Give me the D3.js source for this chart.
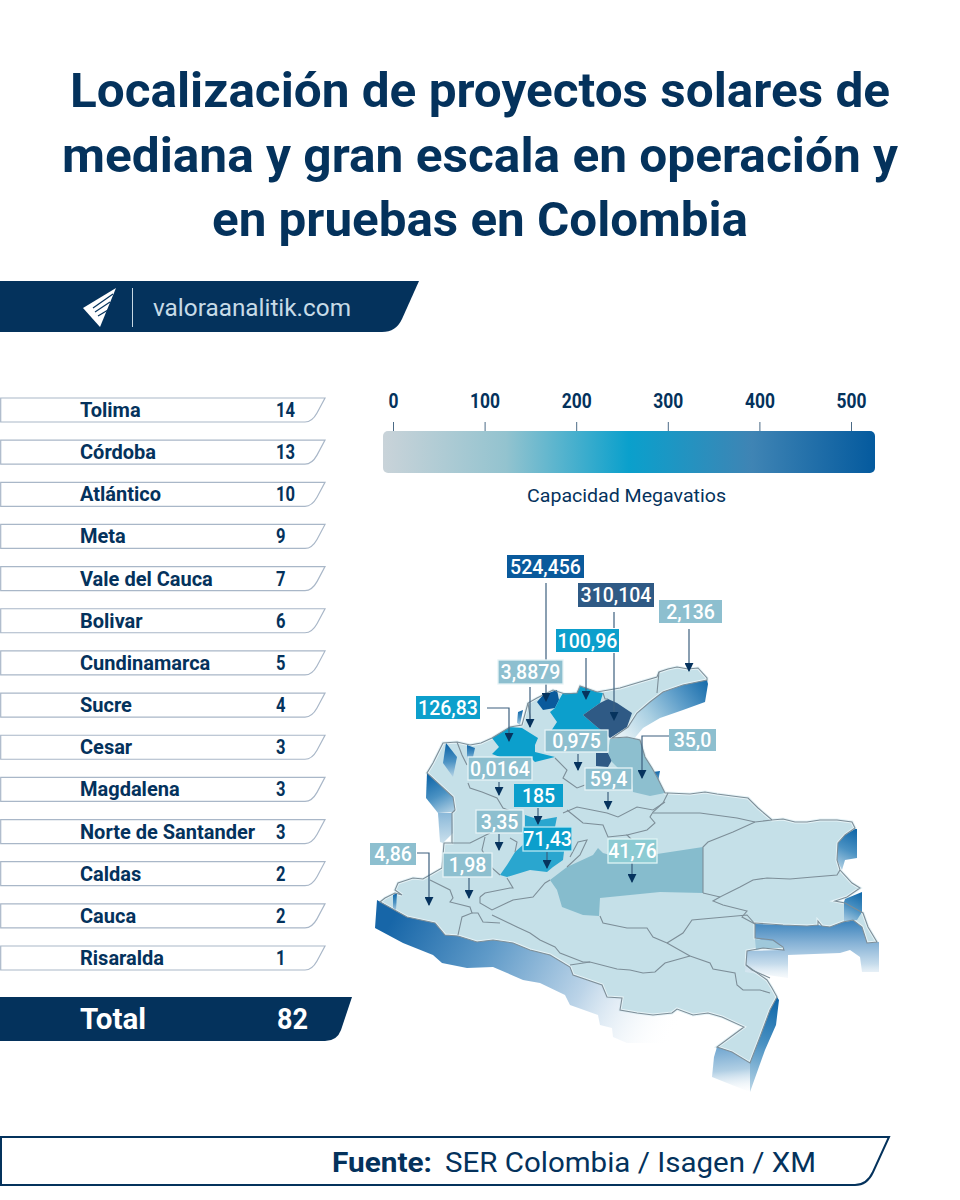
<!DOCTYPE html>
<html>
<head>
<meta charset="utf-8">
<script src="https://cdn.jsdelivr.net/npm/d3@7"></script>
<style>
  html, body { margin: 0; background: #fff; }
  text { font-family: Roboto, sans-serif; }
</style>
</head>
<body>
<svg id="chart" width="960" height="1200"></svg>
<script>
const titleLines = ["Localización de proyectos solares de", "mediana y gran escala en operación y", "en pruebas en Colombia"];

const departments = ["Tolima", "Córdoba", "Atlántico", "Meta", "Vale del Cauca", "Bolivar", "Cundinamarca", "Sucre", "Cesar", "Magdalena", "Norte de Santander", "Caldas", "Cauca", "Risaralda"];
const projectCounts = [14, 13, 10, 9, 7, 6, 5, 4, 3, 3, 3, 2, 2, 1];
const totalProjects = 82;

const legendTicks = [0, 100, 200, 300, 400, 500];

// callouts on the map
const capacityLabels = ["524,456", "310,104", "2,136", "100,96", "3,8879", "126,83", "0,975", "35,0", "0,0164", "59,4", "185", "3,35", "71,43", "41,76", "4,86", "1,98"];
const calloutTier = ["top", "dark", "low", "mid", "lowb", "mid", "lowb", "low", "lowb", "lowb", "mid", "lowb", "midb", "lowc", "low", "lowb"];
const calloutBoxes = [[507,555,584,578],[578,583,654,607],[659,600,722,623],[556,629,619,652],[498,660,563,684],[416,696,480,719],[545,730,608,752],[669,729,716,751],[468,757,532,780],[585,768,632,790],[514,784,563,807],[476,810,523,833],[523,827,572,851],[608,839,657,863],[370,843,416,865],[443,853,492,877]];
const calloutLeaders = [
  [[546,583],[546,701]], [[614,653],[614,720]], [[689,629],[689,671]], [[586,658],[586,699]],
  [[530,687],[530,727]], [[487,708],[509,708],[509,741]], [[578,754],[578,770]], [[672,736],[642,736],[642,778]],
  [[499,782],[499,795]], [[608,792],[608,809]], [[538,808],[538,824]], [[499,834],[499,850]],
  [[547,852],[547,868]], [[632,863],[632,882]], [[417,853],[429,853],[429,905]], [[469,878],[469,898]]
];
const extraLeaderPiece = [[614,612],[614,628]];

// map outlines (map units)
const countryOutline = [[470,745],[481,743],[492,738],[510,727],[522,725],[525,714],[528,703],[537,698],[553,690],[565,694],[577,693],[580,686],[597,692],[620,688],[640,682],[657,677],[659,672],[668,669],[677,667],[688,669],[698,668],[707,678],[707,680],[683,685],[663,692],[650,702],[637,713],[628,727],[612,738],[627,737],[640,740],[645,757],[652,768],[657,777],[665,793],[668,793],[690,794],[705,792],[717,794],[740,797],[748,798],[758,808],[772,820],[783,819],[795,822],[807,822],[820,820],[837,820],[852,822],[855,828],[845,835],[838,843],[837,860],[840,870],[852,883],[860,888],[847,897],[835,901],[845,903],[863,913],[868,927],[877,942],[867,943],[862,927],[853,920],[843,922],[830,927],[822,926],[818,921],[818,925],[807,926],[783,925],[755,923],[755,938],[773,940],[783,947],[784,950],[763,948],[747,951],[746,965],[767,980],[772,988],[777,997],[770,1010],[760,1037],[750,1063],[732,1052],[717,1047],[744,1027],[722,1017],[708,1013],[693,1015],[677,1009],[672,1013],[653,1015],[637,1013],[620,1010],[622,998],[607,997],[602,985],[573,975],[570,967],[550,955],[530,950],[513,943],[493,940],[477,942],[458,936],[445,935],[435,923],[407,917],[380,902],[385,898],[395,893],[402,895],[395,890],[398,883],[413,878],[423,879],[442,868],[444,843],[452,843],[452,823],[452,813],[455,810],[453,797],[427,773],[433,763],[443,743],[457,742]];

const atlantico = [[537,702],[543,695],[557,690],[559,700],[555,708],[543,710]];
const bolivarNorth = [[550,712],[555,708],[559,700],[563,693],[577,693],[580,686],[597,692],[603,693],[600,703],[583,715],[597,727],[607,733],[600,740],[545,740],[557,722]];
const cesarNorth = [[583,715],[600,703],[608,699],[617,703],[632,713],[627,727],[610,738],[604,732],[597,727]];
const cesarSouth = [[596,753],[608,753],[612,760],[608,767],[596,766]];
const norteSantander = [[610,739],[627,737],[640,740],[645,757],[652,768],[657,777],[665,793],[650,796],[633,792],[632,782],[612,762],[608,753]];
const cordoba = [[492,738],[510,727],[522,728],[538,738],[535,745],[535,752],[555,757],[535,762],[530,757],[500,757],[492,754],[499,747]];
const caldasBand = [[525,815],[540,820],[557,817],[555,827],[525,827]];
const tolimaArea = [[500,875],[507,865],[515,852],[525,843],[565,843],[563,860],[553,867],[547,872],[530,870],[507,877]];
const metaArea = [[550,880],[567,867],[593,855],[598,848],[603,853],[610,855],[657,854],[703,847],[703,893],[660,892],[600,898],[599,916],[583,915],[562,907],[557,890]];
const guainiaPatch = [[755,939],[773,941],[783,948],[763,948],[756,950]];

const sideShapes = [
  { id: "sidePacific", from: [400, 905], to: [665, 1050], points: [[377,900],[407,917],[435,923],[445,935],[458,936],[477,942],[493,940],[513,943],[530,950],[550,955],[570,967],[573,975],[602,985],[607,997],[622,998],[620,1010],[637,1013],[653,1015],[672,1013],[677,1009],[693,1015],[708,1013],[722,1017],[744,1027],[717,1047],[673,1043],[627,1043],[613,1037],[612,1028],[600,1025],[598,1015],[570,1005],[565,995],[540,983],[523,980],[493,967],[467,968],[442,963],[433,955],[403,943],[375,928]] },
  { id: "sideTip", from: [730, 1045], to: [735, 1095], points: [[717,1047],[732,1052],[750,1063],[750,1092],[732,1085],[712,1077],[714,1057]] },
  { id: "sideTipEast", from: [778, 1000], to: [748, 1090], points: [[750,1063],[760,1037],[770,1010],[777,997],[779,1000],[776,1025],[765,1050],[750,1092]] },
  { id: "sideEast", from: [810, 922], to: [810, 985], points: [[755,924],[807,926],[818,925],[830,927],[843,922],[853,920],[862,927],[867,943],[879,942],[879,972],[862,972],[860,957],[850,950],[840,953],[788,955],[788,978],[745,972],[747,951],[784,950],[783,947],[755,938]] },
  { id: "sideGuajira", from: [708, 682], to: [628, 742], points: [[707,680],[708,684],[705,702],[683,710],[660,718],[643,728],[633,740],[627,737],[612,738],[628,727],[637,713],[650,702],[663,692],[683,685]] },
  { id: "sideEastA", from: [857, 830], to: [838, 870], points: [[855,829],[857,829],[857,858],[845,860],[842,870],[837,860],[838,843],[845,835]] },
  { id: "sideEastB", from: [862, 892], to: [845, 925], points: [[845,899],[862,892],[862,912],[857,920],[844,922],[844,902]] },
  { id: "sideWestA", from: [430, 775], to: [450, 815], points: [[427,773],[453,797],[455,812],[438,813],[426,798]] },
  { id: "sideWestB", from: [445, 800], to: [448, 845], points: [[438,813],[452,813],[453,833],[443,843],[440,842]] },
  { id: "sideWestC", from: [448, 745], to: [450, 778], points: [[446,743],[457,757],[453,777],[443,763]] },
  { id: "sideWestD", from: [470, 745], to: [470, 762], points: [[467,745],[475,748],[473,757],[467,762]] },
  { id: "sideCaribA", from: [520, 710], to: [519, 725], points: [[518,712],[523,710],[520,725],[517,723]] },
  { id: "sideVzla", from: [656, 771], to: [656, 784], points: [[653,772],[660,771],[658,782],[654,781]] },
  { id: "sidePacificN", from: [395, 893], to: [395, 912], points: [[393,895],[397,893],[396,910],[393,908]] }
];

const borderLines = [
  [[659,672],[658,682],[657,693]],
  [[528,703],[530,716],[530,727]],
  [[603,693],[605,699],[608,699]],
  [[555,758],[567,770],[563,778],[577,788],[585,785]],
  [[468,783],[470,788],[482,792],[497,798],[503,808],[520,815]],
  [[457,742],[462,755],[467,765]],
  [[430,880],[450,890],[453,898],[450,902],[470,907],[472,913],[462,917],[458,935]],
  [[472,913],[478,913],[483,922],[500,923]],
  [[480,897],[485,893],[510,888],[513,888],[507,878]],
  [[480,897],[480,903],[492,910],[513,900],[533,897],[545,883],[550,880]],
  [[492,915],[517,927],[530,933],[540,940],[555,947],[560,953],[583,962],[590,962]],
  [[570,965],[590,962],[617,969],[630,970],[643,973],[655,972],[665,963],[690,956]],
  [[690,956],[710,963],[713,969],[735,973],[737,985],[743,990],[760,990],[770,993]],
  [[690,956],[667,943],[653,937],[647,928],[627,928],[603,923],[600,916]],
  [[667,943],[683,933],[692,920],[747,915],[755,924]],
  [[703,893],[720,897],[740,887],[753,880],[767,878],[790,879],[813,877],[837,875],[840,870]],
  [[720,897],[713,901],[723,905],[747,911],[742,917],[755,924]],
  [[703,893],[703,847],[708,842],[733,832],[755,822],[772,820]],
  [[653,813],[673,813],[700,813],[737,818],[755,822]],
  [[668,793],[663,803],[653,812],[650,817],[655,823],[647,830],[627,835],[632,840]],
  [[567,810],[583,823],[603,825],[608,837],[627,835]],
  [[563,813],[577,807],[607,813],[618,817],[637,807],[653,810],[665,802]],
  [[567,867],[580,855],[587,840],[578,842],[570,857]],
  [[485,837],[482,850],[492,868],[500,875]],
  [[510,838],[517,842],[515,852]],
  [[452,843],[470,843],[490,833]],
  [[746,965],[752,970],[770,978]]
];

const navy = "#04325c";
const calloutFill = { top: "#0a5a9c", dark: "#2f5a85", mid: "#0c9fcc", midb: "#0c9fcc", low: "#8dbfcf", lowb: "#8dbfcf", lowc: "#8ccbd3" };
const calloutStroke = { midb: "#b9e6f2", lowb: "#e6f3f6", lowc: "#dff4f5" };

const svg = d3.select("#chart");
const defs = svg.append("defs");

// title
svg.append("g").selectAll("text").data(titleLines).enter().append("text")
  .attr("x", 480)
  .attr("y", (d, i) => [107, 172, 236][i])
  .attr("text-anchor", "middle")
  .attr("font-size", 48)
  .attr("font-weight", 700)
  .attr("fill", navy)
  .attr("textLength", (d, i) => [820, 836, 536][i])
  .attr("lengthAdjust", "spacingAndGlyphs")
  .text(d => d);

// header band
svg.append("path").attr("fill", navy)
  .attr("d", "M0 281H419L402 319Q396 332 382 332H0Z");
svg.append("path").attr("fill", "#fff").attr("d", "M116 288L83 308L100 327Z");
svg.append("g").attr("stroke", navy).attr("stroke-width", 1.2).attr("fill", "none")
  .selectAll("path").data(["M113 294L93 308", "M110 302L95 312", "M108 310L98 316"]).enter().append("path").attr("d", d => d);
svg.append("line").attr("x1", 132.5).attr("x2", 132.5).attr("y1", 288).attr("y2", 327).attr("stroke", "#c7d8e3").attr("stroke-width", 1);
svg.append("text").attr("x", 153).attr("y", 316).attr("font-size", 24).attr("fill", "#c7dbe7")
  .attr("textLength", 198).attr("lengthAdjust", "spacingAndGlyphs").text("valoraanalitik.com");

// ranking list
const rowY = d3.scalePoint().domain(departments).range([410, 958]);
const rows = svg.append("g").selectAll("g").data(departments).enter().append("g")
  .attr("transform", d => `translate(0,${rowY(d)})`);
rows.append("path")
  .attr("d", "M0.7 -12H325L317 3Q312 12 305 12H0.7Z")
  .attr("fill", "#fff").attr("stroke", "#a9b7c8").attr("stroke-width", 1.2);
rows.append("text").attr("x", 80).attr("y", 7).attr("font-size", 20).attr("font-weight", 700).attr("fill", navy).text(d => d);
rows.append("text").attr("x", 276).attr("y", 7).attr("font-size", 20).attr("font-weight", 700).attr("fill", navy)
  .attr("textLength", (d, i) => String(projectCounts[i]).length * 9.5).attr("lengthAdjust", "spacingAndGlyphs")
  .text((d, i) => projectCounts[i]);

// total band
svg.append("path").attr("fill", navy).attr("d", "M0 997H352L341 1030Q337 1041 325 1041H0Z");
svg.append("text").attr("x", 80).attr("y", 1029).attr("font-size", 30).attr("font-weight", 700).attr("fill", "#fff")
  .attr("textLength", 66).attr("lengthAdjust", "spacingAndGlyphs").text("Total");
svg.append("text").attr("x", 277).attr("y", 1029).attr("font-size", 30).attr("font-weight", 700).attr("fill", "#fff")
  .attr("textLength", 31).attr("lengthAdjust", "spacingAndGlyphs").text(totalProjects);

// colour legend
const legendScale = d3.scaleLinear().domain([0, 500]).range([393, 851]);
const legendGrad = defs.append("linearGradient").attr("id", "legendGrad");
[[0, "#c9d3d9"], [0.25, "#93c3cf"], [0.5, "#0aa0cc"], [0.75, "#3f84b4"], [1, "#045a9e"]].forEach(s =>
  legendGrad.append("stop").attr("offset", s[0]).attr("stop-color", s[1]));
svg.append("rect").attr("x", 383).attr("y", 431).attr("width", 492).attr("height", 42).attr("rx", 5).attr("fill", "url(#legendGrad)");
const legendAxis = svg.append("g").attr("transform", "translate(0,431)")
  .call(d3.axisTop(legendScale).tickValues(legendTicks).tickSize(9).tickPadding(14).tickFormat(d3.format("d")));
legendAxis.select(".domain").remove();
legendAxis.selectAll("line").attr("stroke", "#4b6a86");
legendAxis.selectAll("text").attr("font-family", "Roboto, sans-serif").attr("font-size", 20).attr("font-weight", 700).attr("fill", navy)
  .attr("textLength", d => String(d).length * 10).attr("lengthAdjust", "spacingAndGlyphs");
svg.append("text").attr("x", 626.5).attr("y", 502).attr("text-anchor", "middle").attr("font-size", 18).attr("fill", navy)
  .attr("textLength", 199).attr("lengthAdjust", "spacingAndGlyphs").text("Capacidad Megavatios");

// map
const mapX = d3.scaleLinear().domain([360, 900]).range([360, 900]);
const mapY = d3.scaleLinear().domain([540, 1140]).range([540, 1140]);
const mapLine = d3.line().x(d => mapX(d[0])).y(d => mapY(d[1]));
const mapShape = pts => mapLine(pts) + "Z";

const sideStops = {
  sidePacific: [["#1766a8", 1], ["#5f9ac8", 1], ["#bcd4e8", 1], ["#ffffff", 0]],
  sideEast: [["#3f85bd", 1], ["#86b2d6", 1], ["#c6dcec", 1], ["#ffffff", 0.2]],
  sideTip: [["#6da4cf", 1], ["#b1cfe4", 1], ["#ffffff", 0.1]],
  sideWestB: [["#6fa7d0", 1], ["#cfe3ee", 1]],
  sideGuajira: [["#176cab", 1], ["#5d9dc9", 1], ["#a9cfe2", 1], ["#e3f0f5", 1]],
  default: [["#0f66a8", 1], ["#4b92c3", 1], ["#b9d5e6", 1]]
};
sideShapes.forEach(s => {
  const g = defs.append("linearGradient").attr("id", s.id).attr("gradientUnits", "userSpaceOnUse")
    .attr("x1", mapX(s.from[0])).attr("y1", mapY(s.from[1])).attr("x2", mapX(s.to[0])).attr("y2", mapY(s.to[1]));
  (sideStops[s.id] || sideStops.default).forEach((st, i, all) =>
    g.append("stop").attr("offset", i / (all.length - 1)).attr("stop-color", st[0]).attr("stop-opacity", st[1]));
});

svg.append("path").attr("d", mapShape(countryOutline)).attr("fill", "#c5e0e8").attr("stroke", "#e6f3f7").attr("stroke-width", 3);
svg.append("g").selectAll("path").data(sideShapes).enter().append("path")
  .attr("d", d => mapShape(d.points)).attr("fill", d => `url(#${d.id})`);

const regionFills = [
  [metaArea, "#86bccd"], [atlantico, "#0a5a9c"], [bolivarNorth, "#0c9fcc"], [cesarNorth, "#2f5a85"], [cesarSouth, "#2f5a85"],
  [norteSantander, "#8dbfcf"], [cordoba, "#0c9fcc"], [caldasBand, "#2aa6cf"], [tolimaArea, "#2aa6cf"], [guainiaPatch, "#9fc8da"]
];
svg.append("g").selectAll("path").data(regionFills).enter().append("path")
  .attr("d", d => mapShape(d[0])).attr("fill", d => d[1]);

svg.append("path").attr("d", mapShape(countryOutline)).attr("fill", "none").attr("stroke", "#7d8e98").attr("stroke-width", 1.1);
svg.append("g").attr("fill", "none").attr("stroke", "#7d8e98").attr("stroke-width", 1.1)
  .selectAll("path").data(borderLines).enter().append("path").attr("d", d => mapLine(d));

// callouts
defs.append("marker").attr("id", "arrow").attr("viewBox", "0 0 10 10").attr("refX", 9).attr("refY", 5)
  .attr("markerWidth", 9).attr("markerHeight", 9).attr("markerUnits", "userSpaceOnUse").attr("orient", "auto")
  .append("path").attr("d", "M0 0L10 5L0 10Z").attr("fill", "#06335e");
svg.append("g").attr("fill", "none").attr("stroke", "#3c5f7e").attr("stroke-width", 1.2)
  .selectAll("path").data(calloutLeaders).enter().append("path")
  .attr("d", d => mapLine(d)).attr("marker-end", "url(#arrow)");
svg.append("path").attr("d", mapLine(extraLeaderPiece)).attr("fill", "none").attr("stroke", "#3c5f7e").attr("stroke-width", 1.2);

const callouts = svg.append("g").selectAll("g").data(capacityLabels).enter().append("g");
callouts.append("rect")
  .attr("x", (d, i) => mapX(calloutBoxes[i][0])).attr("y", (d, i) => mapY(calloutBoxes[i][1]))
  .attr("width", (d, i) => mapX(calloutBoxes[i][2]) - mapX(calloutBoxes[i][0]))
  .attr("height", (d, i) => mapY(calloutBoxes[i][3]) - mapY(calloutBoxes[i][1]))
  .attr("fill", (d, i) => calloutFill[calloutTier[i]])
  .attr("stroke", (d, i) => calloutStroke[calloutTier[i]] || "none").attr("stroke-width", 1.3);
callouts.append("text")
  .attr("x", (d, i) => mapX((calloutBoxes[i][0] + calloutBoxes[i][2]) / 2))
  .attr("y", (d, i) => mapY((calloutBoxes[i][1] + calloutBoxes[i][3]) / 2) + 7)
  .attr("text-anchor", "middle").attr("font-size", 19.5).attr("font-weight", 500).attr("fill", "#fff")
  .text(d => d);

// source box
svg.append("path").attr("fill", "none").attr("stroke", navy).attr("stroke-width", 2)
  .attr("d", "M1 1137H889L873 1172Q867 1185 855 1185H1Z");
svg.append("text").attr("x", 332).attr("y", 1172).attr("font-size", 28).attr("font-weight", 700).attr("fill", navy)
  .attr("textLength", 100).attr("lengthAdjust", "spacingAndGlyphs").text("Fuente:");
svg.append("text").attr("x", 445).attr("y", 1172).attr("font-size", 28).attr("fill", navy)
  .attr("textLength", 371).attr("lengthAdjust", "spacingAndGlyphs").text("SER Colombia / Isagen / XM");
</script>
</body>
</html>
